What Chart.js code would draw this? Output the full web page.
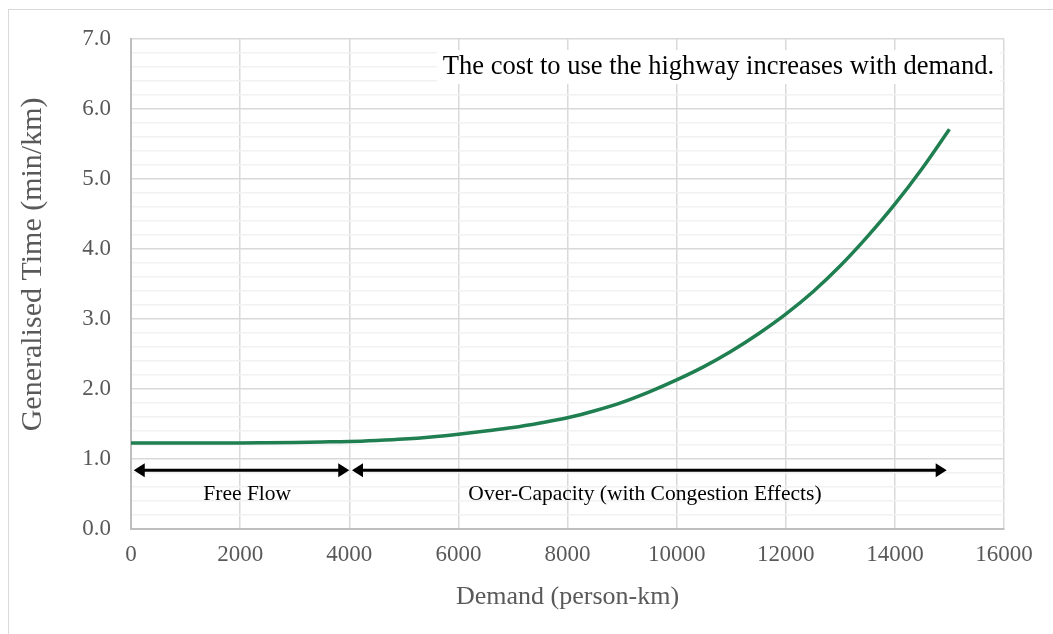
<!DOCTYPE html>
<html lang="en">
<head>
  <meta charset="UTF-8" />
  <title>Generalised Time vs Demand</title>
  <script src="https://cdn.jsdelivr.net/npm/chart.js"></script>
  <style>
    body {
      margin: 0;
      background: #ffffff;
      overflow: hidden;
    }

    .frame {
      position: absolute;
      left: 8px;
      top: 9px;
      width: 1100px;
      height: 700px;
      border: 1px solid #d9d9d9;
    }

    canvas {
      position: absolute;
      left: 0;
      top: 0;
    }
  </style>
</head>
<body>
  <div class="frame"></div>
  <canvas id="costChart" width="1053" height="634"></canvas>

  <script>
    // demand (person-km) and generalised time (min/km)
    const demand = [0, 500, 1000, 1500, 2000, 2500, 3000, 3500, 4000, 4500, 5000, 5500, 6000, 6500, 7000, 7500,
      8000, 8500, 9000, 9500, 10000, 10500, 11000, 11500, 12000, 12500, 13000, 13500, 14000, 14500, 15000];
    const genTime = [1.23, 1.23, 1.23, 1.23, 1.23, 1.233, 1.237, 1.243, 1.25, 1.265, 1.285, 1.315, 1.355, 1.40, 1.45, 1.515,
      1.59, 1.69, 1.81, 1.96, 2.13, 2.32, 2.54, 2.79, 3.07, 3.39, 3.76, 4.18, 4.64, 5.15, 5.71];

    const xTitle = 'Demand (person-km)';
    const yTitle = 'Generalised Time (min/km)';
    const headline = 'The cost to use the highway increases with demand.';

    const regionNames = ['Free Flow', 'Over-Capacity (with Congestion Effects)'];
    const regionStart = [50, 4050];
    const regionEnd = [4000, 14950];
    const regionLabelAt = [2130, 9420];

    const serif = "'Liberation Serif', 'Times New Roman', serif";
    const tickGrey = '#595959';

    // y title, arrows, region labels and the headline box
    const notes = {
      id: 'notes',
      afterDatasetsDraw(chart) {
        const ctx = chart.ctx;
        const x = chart.scales.x;
        const y = chart.scales.y;
        const area = chart.chartArea;
        const ay = y.getPixelForValue(0.84);

        ctx.save();
        ctx.fillStyle = tickGrey;
        ctx.font = '30px ' + serif;
        ctx.textAlign = 'center';
        ctx.textBaseline = 'middle';
        ctx.translate(33, y.getPixelForValue(3.78));
        ctx.rotate(-Math.PI / 2);
        ctx.fillText(yTitle, 0, 0);
        ctx.restore();

        ctx.save();
        ctx.strokeStyle = '#000';
        ctx.fillStyle = '#000';
        ctx.lineWidth = 3;
        regionNames.forEach((name, i) => {
          const x1 = x.getPixelForValue(regionStart[i]);
          const x2 = x.getPixelForValue(regionEnd[i]);
          ctx.beginPath();
          ctx.moveTo(x1 + 6, ay);
          ctx.lineTo(x2 - 6, ay);
          ctx.stroke();
          // heads
          ctx.beginPath();
          ctx.moveTo(x1, ay);
          ctx.lineTo(x1 + 11, ay - 7);
          ctx.lineTo(x1 + 11, ay + 7);
          ctx.closePath();
          ctx.fill();
          ctx.beginPath();
          ctx.moveTo(x2, ay);
          ctx.lineTo(x2 - 11, ay - 7);
          ctx.lineTo(x2 - 11, ay + 7);
          ctx.closePath();
          ctx.fill();

          ctx.font = '21.5px ' + serif;
          ctx.textAlign = 'center';
          ctx.textBaseline = 'middle';
          ctx.fillText(name, x.getPixelForValue(regionLabelAt[i]), y.getPixelForValue(0.5));
        });

        ctx.font = '26.5px ' + serif;
        ctx.textAlign = 'right';
        ctx.textBaseline = 'middle';
        const w = ctx.measureText(headline).width;
        const tx = area.right - 10;
        const ty = y.getPixelForValue(6.6);
        ctx.fillStyle = '#fff';
        ctx.fillRect(tx - w - 6, ty - 17, w + 12, 34);
        ctx.fillStyle = '#000';
        ctx.fillText(headline, tx, ty);
        ctx.restore();
      }
    };

    new Chart(document.getElementById('costChart'), {
      type: 'line',
      data: {
        labels: demand,
        datasets: [{
          data: demand.map((d, i) => ({ x: d, y: genTime[i] })),
          borderColor: '#1f7f50',
          borderWidth: 3.5,
          pointRadius: 0,
          cubicInterpolationMode: 'monotone',
          fill: false
        }]
      },
      options: {
        responsive: false,
        animation: false,
        layout: { padding: { left: 0, top: 39, right: 49, bottom: 0 } },
        plugins: {
          legend: { display: false },
          tooltip: { enabled: false }
        },
        scales: {
          x: {
            type: 'linear',
            min: 0,
            max: 16000,
            afterFit: (s) => { s.height = 105; },
            ticks: {
              stepSize: 2000,
              padding: 12,
              color: tickGrey,
              font: { family: serif, size: 23 },
              maxRotation: 0,
              callback: (v) => String(v)
            },
            grid: { color: '#d9d9d9', lineWidth: 1.5, drawTicks: false },
            border: { color: '#bfbfbf', width: 2 },
            title: {
              display: true,
              text: xTitle,
              color: tickGrey,
              font: { family: serif, size: 26 },
              padding: { top: 0, bottom: 21 }
            }
          },
          y: {
            min: 0,
            max: 7,
            afterFit: (s) => { s.width = 131; },
            afterBuildTicks: (s) => {
              s.ticks = [];
              for (let i = 0; i <= 35; i++) s.ticks.push({ value: i / 5 });
            },
            ticks: {
              autoSkip: false,
              padding: 20,
              color: tickGrey,
              font: { family: serif, size: 23 },
              callback: (v) => (Math.abs(v - Math.round(v)) < 1e-6 ? v.toFixed(1) : '')
            },
            grid: {
              drawTicks: false,
              color: (c) => (Math.abs(c.tick.value - Math.round(c.tick.value)) < 1e-6 ? '#d9d9d9' : '#f2f2f2'),
              lineWidth: 1.5
            },
            border: { color: '#bfbfbf', width: 2 }
          }
        }
      },
      plugins: [notes]
    });
  </script>
</body>
</html>
